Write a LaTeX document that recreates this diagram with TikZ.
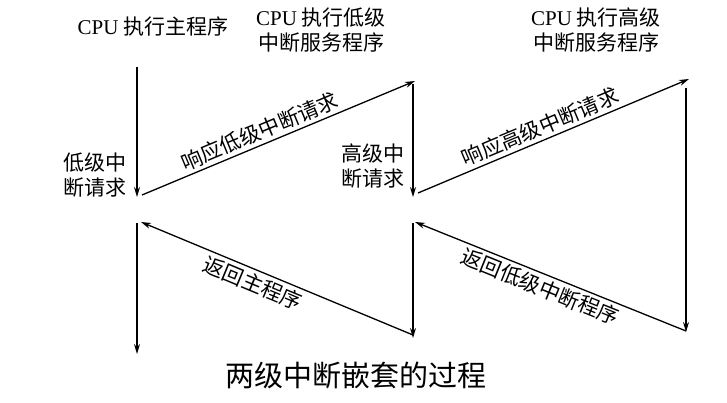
\documentclass[tikz,border=0pt]{standalone}
\usepackage{fontspec}
\setmainfont{Liberation Serif}
\newfontfamily\cjk{Noto Sans CJK SC}
\usetikzlibrary{arrows.meta}
\begin{document}
\begin{tikzpicture}[x=1pt,y=-1pt,
  flow/.style={line width=1.3pt,-{Stealth[length=10pt,width=6pt]}},
  lbl/.style={font=\fontsize{21}{25}\selectfont\cjk, inner sep=1pt, align=center},
  along/.style={font=\fontsize{21}{25}\selectfont\cjk, inner sep=3pt, sloped},
  caption/.style={font=\fontsize{29}{33}\selectfont\cjk}]
\useasboundingbox[fill=white] (0,0) rectangle (727,403);

% end points of the saw-tooth path
\coordinate (a1) at (137,67);   \coordinate (a2) at (137,197);
\coordinate (b1) at (142,195);  \coordinate (b2) at (415,81);
\coordinate (c1) at (413,84);   \coordinate (c2) at (413,197);
\coordinate (d1) at (418,193);  \coordinate (d2) at (689,79);
\coordinate (e1) at (686,88);   \coordinate (e2) at (686,332);
\coordinate (f1) at (686,331);  \coordinate (f2) at (415,222);
\coordinate (g1) at (413,223);  \coordinate (g2) at (413,338);
\coordinate (h1) at (413,335);  \coordinate (h2) at (141,222);
\coordinate (i1) at (137,223);  \coordinate (i2) at (137,354);

% headings
\node[lbl] (main)  at (153,27) {{\rmfamily CPU} 执行主程序};
\node[lbl] (low)   at (321,30) {{\rmfamily CPU} 执行低级\\中断服务程序};
\node[lbl] (high)  at (596,30) {{\rmfamily CPU} 执行高级\\中断服务程序};

% request labels
\node[lbl] (lreq) at (95,175)  {低级中\\断请求};
\node[lbl] (hreq) at (373,166) {高级中\\断请求};

% transfers of control
\draw[flow] (a1) -- (a2);
\draw[flow] (b1) -- node[along, above, pos=0.45] {响应低级中断请求} (b2);
\draw[flow] (c1) -- (c2);
\draw[flow] (d1) -- node[along, above, pos=0.47] {响应高级中断请求} (d2);
\draw[flow] (e1) -- (e2);
\draw[flow] (f1) -- node[along, below, pos=0.52] {返回低级中断程序} (f2);
\draw[flow] (g1) -- (g2);
\draw[flow] (h1) -- node[along, below, pos=0.57] {返回主程序} (h2);
\draw[flow] (i1) -- (i2);

\node[caption] (cap) at (356,375) {两级中断嵌套的过程};
\end{tikzpicture}
\end{document}
